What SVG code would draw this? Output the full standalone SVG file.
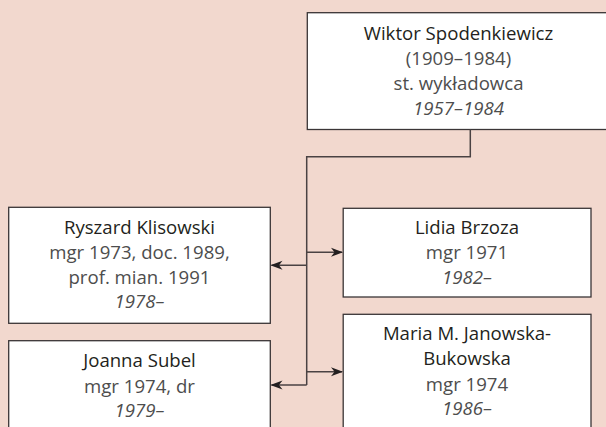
<svg xmlns="http://www.w3.org/2000/svg" width="606" height="427" viewBox="0 0 606 427">
<defs>
<marker id="ah" viewBox="0 0 12 10" markerWidth="12" markerHeight="10" refX="11" refY="5" orient="auto" markerUnits="userSpaceOnUse">
<path d="M0,0.5 L12,5 L0,9.5 L3.5,5 Z" fill="#231f20"/>
</marker>
<style>
.box{fill:#ffffff;stroke:#3a3536;stroke-width:1.3}
.t{font-family:"Open Sans","Liberation Sans",sans-serif;font-size:18.6px;text-anchor:middle;fill:#4d4d4d}
.n{fill:#231f20}
.i{font-style:italic}
.c{fill:none;stroke:#4a4243;stroke-width:1.5}
</style>
</defs>
<rect width="606" height="427" fill="#f2d8ce"/>
<g id="wiktor">
<rect class="box" x="307.3" y="12.7" width="305" height="116.8"/>
<text class="t n" x="458.5" y="39.5">Wiktor Spodenkiewicz</text>
<text class="t" x="458.5" y="64.5">(1909–1984)</text>
<text class="t" x="458.5" y="89.5">st. wykładowca</text>
<text class="t i" x="458.5" y="114.5">1957–1984</text>
</g>
<g id="ryszard">
<rect class="box" x="8.7" y="207.3" width="261.6" height="116"/>
<text class="t n" x="139.5" y="233.5">Ryszard Klisowski</text>
<text class="t" x="139.5" y="258.5">mgr 1973, doc. 1989,</text>
<text class="t" x="139.5" y="283.5">prof. mian. 1991</text>
<text class="t i" x="139.5" y="308">1978–</text>
</g>
<g id="joanna">
<rect class="box" x="8.7" y="340.7" width="261.6" height="100"/>
<text class="t n" x="139.5" y="366.7">Joanna Subel</text>
<text class="t" x="139.5" y="392.5">mgr 1974, dr</text>
<text class="t i" x="139.5" y="416.7">1979–</text>
</g>
<g id="lidia">
<rect class="box" x="343.2" y="208.3" width="247.8" height="88.7"/>
<text class="t n" x="467" y="233.5">Lidia Brzoza</text>
<text class="t" x="467" y="259">mgr 1971</text>
<text class="t i" x="467" y="283.5">1982–</text>
</g>
<g id="maria">
<rect class="box" x="343.2" y="314.3" width="247.8" height="130"/>
<text class="t n" x="467" y="340">Maria M. Janowska-</text>
<text class="t n" x="467" y="365">Bukowska</text>
<text class="t" x="467" y="391">mgr 1974</text>
<text class="t i" x="467" y="415">1986–</text>
</g>
<g id="connectors">
<path class="c" d="M470.3,129.5 V156.7 H306.7 V385"/>
<path class="c" d="M306.7,252.3 H342" marker-end="url(#ah)"/>
<path class="c" d="M306.7,265.3 H271.5" marker-end="url(#ah)"/>
<path class="c" d="M306.7,371.7 H342" marker-end="url(#ah)"/>
<path class="c" d="M306.7,385 H271.5" marker-end="url(#ah)"/>
</g>
</svg>
